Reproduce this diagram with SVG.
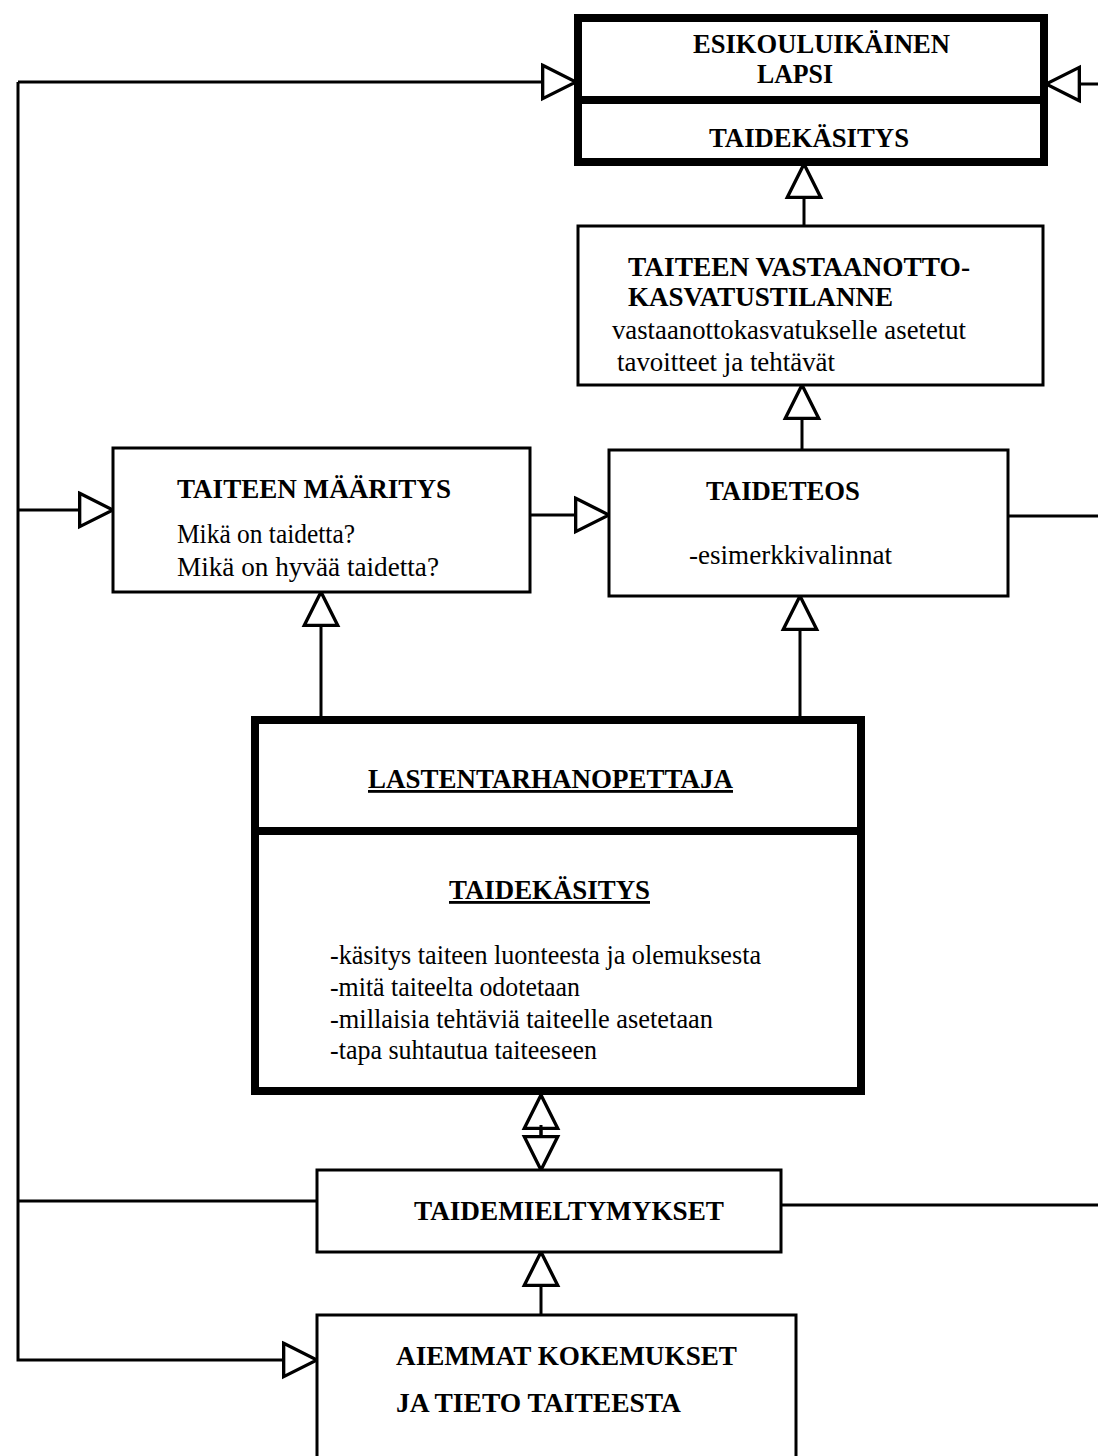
<svg xmlns="http://www.w3.org/2000/svg" width="1098" height="1456" viewBox="0 0 1098 1456">
<style>
.box{fill:#fff;stroke:#000;stroke-width:3}
.thick{fill:#fff;stroke:#000;stroke-width:8}
.div{stroke:#000;stroke-width:8}
.ln{fill:none;stroke:#000;stroke-width:3}
.h{font-family:"Liberation Serif","Times New Roman",serif;font-weight:bold;font-size:28px;fill:#000}
.t{font-family:"Liberation Serif","Times New Roman",serif;font-size:28px;fill:#000}
.u{text-decoration:underline}
</style>
<defs>
<marker id="tri" markerUnits="userSpaceOnUse" markerWidth="40" markerHeight="40" viewBox="-2 -2 36 36" refX="31" refY="16" orient="auto">
<path d="M1,1 L31,16 L1,31 Z" fill="#fff" stroke="#000" stroke-width="3"/>
</marker>
</defs>
<rect width="1098" height="1456" fill="#fff"/>
<g id="connectors">
<polyline class="ln" points="18,82 18,1360 317,1360" marker-end="url(#tri)"/>
<line class="ln" x1="18" y1="82" x2="576" y2="82" marker-end="url(#tri)"/>
<line class="ln" x1="1098" y1="84" x2="1046" y2="84" marker-end="url(#tri)"/>
<line class="ln" x1="18" y1="510" x2="113" y2="510" marker-end="url(#tri)"/>
<line class="ln" x1="18" y1="1201" x2="317" y2="1201"/>
<line class="ln" x1="530" y1="515" x2="609" y2="515" marker-end="url(#tri)"/>
<line class="ln" x1="1008" y1="516" x2="1098" y2="516"/>
<line class="ln" x1="781" y1="1205" x2="1098" y2="1205"/>
<line class="ln" x1="804" y1="226" x2="804" y2="164" marker-end="url(#tri)"/>
<line class="ln" x1="802" y1="450" x2="802" y2="385" marker-end="url(#tri)"/>
<line class="ln" x1="321" y1="716" x2="321" y2="592" marker-end="url(#tri)"/>
<line class="ln" x1="800" y1="716" x2="800" y2="596" marker-end="url(#tri)"/>
<line class="ln" x1="541" y1="1136" x2="541" y2="1095" marker-end="url(#tri)"/>
<line class="ln" x1="541" y1="1125" x2="541" y2="1170" marker-end="url(#tri)"/>
<line class="ln" x1="541" y1="1315" x2="541" y2="1252" marker-end="url(#tri)"/>
</g>
<g id="esikouluikainen">
<rect class="thick" x="578" y="18" width="466" height="144"/>
<line class="div" x1="578" y1="100" x2="1044" y2="100"/>
<text class="h" x="693" y="53" textLength="257" lengthAdjust="spacingAndGlyphs">ESIKOULUIKÄINEN</text>
<text class="h" x="757" y="83" textLength="76" lengthAdjust="spacingAndGlyphs">LAPSI</text>
<text class="h" x="709" y="147" textLength="200" lengthAdjust="spacingAndGlyphs">TAIDEKÄSITYS</text>
</g>
<g id="vastaanotto">
<rect class="box" x="578" y="226" width="465" height="159"/>
<text class="h" x="628" y="276" textLength="342" lengthAdjust="spacingAndGlyphs">TAITEEN VASTAANOTTO-</text>
<text class="h" x="628" y="306" textLength="265" lengthAdjust="spacingAndGlyphs">KASVATUSTILANNE</text>
<text class="t" x="612" y="339" textLength="354" lengthAdjust="spacingAndGlyphs">vastaanottokasvatukselle asetetut</text>
<text class="t" x="617" y="371" textLength="218" lengthAdjust="spacingAndGlyphs">tavoitteet ja tehtävät</text>
</g>
<g id="maaritys">
<rect class="box" x="113" y="448" width="417" height="144"/>
<text class="h" x="177" y="498" textLength="274" lengthAdjust="spacingAndGlyphs">TAITEEN MÄÄRITYS</text>
<text class="t" x="177" y="543" textLength="178" lengthAdjust="spacingAndGlyphs">Mikä on taidetta?</text>
<text class="t" x="177" y="576" textLength="262" lengthAdjust="spacingAndGlyphs">Mikä on hyvää taidetta?</text>
</g>
<g id="taideteos">
<rect class="box" x="609" y="450" width="399" height="146"/>
<text class="h" x="706" y="500" textLength="154" lengthAdjust="spacingAndGlyphs">TAIDETEOS</text>
<text class="t" x="689" y="564" textLength="203" lengthAdjust="spacingAndGlyphs">-esimerkkivalinnat</text>
</g>
<g id="lastentarhanopettaja">
<rect class="thick" x="255" y="720" width="606" height="371"/>
<line class="div" x1="255" y1="831" x2="861" y2="831"/>
<text class="h u" x="368" y="788" textLength="365" lengthAdjust="spacingAndGlyphs">LASTENTARHANOPETTAJA</text>
<text class="h u" x="449" y="899" textLength="201" lengthAdjust="spacingAndGlyphs">TAIDEKÄSITYS</text>
<text class="t" x="330" y="964" textLength="431" lengthAdjust="spacingAndGlyphs">-käsitys taiteen luonteesta ja olemuksesta</text>
<text class="t" x="330" y="996" textLength="250" lengthAdjust="spacingAndGlyphs">-mitä taiteelta odotetaan</text>
<text class="t" x="330" y="1028" textLength="383" lengthAdjust="spacingAndGlyphs">-millaisia tehtäviä taiteelle asetetaan</text>
<text class="t" x="330" y="1059" textLength="267" lengthAdjust="spacingAndGlyphs">-tapa suhtautua taiteeseen</text>
</g>
<g id="taidemieltymykset">
<rect class="box" x="317" y="1170" width="464" height="82"/>
<text class="h" x="414" y="1220" textLength="310" lengthAdjust="spacingAndGlyphs">TAIDEMIELTYMYKSET</text>
</g>
<g id="aiemmat">
<rect class="box" x="317" y="1315" width="479" height="160"/>
<text class="h" x="396" y="1365" textLength="341" lengthAdjust="spacingAndGlyphs">AIEMMAT KOKEMUKSET</text>
<text class="h" x="396" y="1412" textLength="285" lengthAdjust="spacingAndGlyphs">JA TIETO TAITEESTA</text>
</g>
</svg>
